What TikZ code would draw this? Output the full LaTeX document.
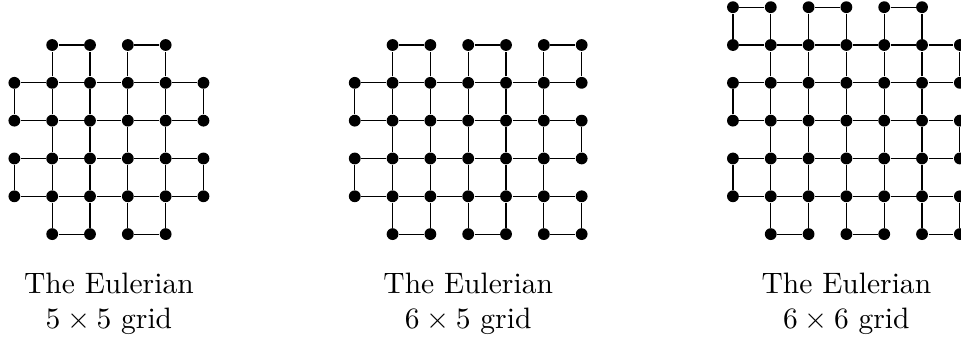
\documentclass[tikz,border=0pt]{standalone}
\usepackage{tikz}
\tikzset{
  vtx/.style={circle, fill=black, inner sep=0pt, minimum size=4pt},
  gridline/.style={line width=0.4pt},
  caption/.style={align=center, anchor=north}
}

\begin{document}
\begin{tikzpicture}[x=0.45cm, y=0.45cm]
\useasboundingbox (-0.38,-2.83) rectangle (25.03,6.19);

% 5 x 5
\begin{scope}
\foreach \x in {1,...,4} \foreach \y in {0,...,5} \node[vtx] (a-\x-\y) at (\x,\y) {};
\foreach \x in {0,5} \foreach \y in {1,...,4} \node[vtx] (a-\x-\y) at (\x,\y) {};
\foreach \y in {1,...,4}
  \foreach \p/\q in {0/1,1/2,2/3,3/4,4/5} \draw[gridline] (a-\p-\y) -- (a-\q-\y);
\foreach \y in {0,5}
  \foreach \p/\q in {1/2,3/4} \draw[gridline] (a-\p-\y) -- (a-\q-\y);
\foreach \x in {1,...,4}
  \foreach \p/\q in {0/1,1/2,2/3,3/4,4/5} \draw[gridline] (a-\x-\p) -- (a-\x-\q);
\foreach \x in {0,5}
  \foreach \p/\q in {1/2,3/4} \draw[gridline] (a-\x-\p) -- (a-\x-\q);
\node[caption] (lab-a) at (2.5,-0.75) {The Eulerian\\$5\times5$ grid};
\end{scope}

% 6 x 5
\begin{scope}[xshift=9*0.45cm]
\foreach \x in {1,...,6} \foreach \y in {0,...,5} \node[vtx] (b-\x-\y) at (\x,\y) {};
\foreach \y in {1,...,4} \node[vtx] (b-0-\y) at (0,\y) {};
\foreach \y in {1,...,4}
  \foreach \p/\q in {0/1,1/2,2/3,3/4,4/5,5/6} \draw[gridline] (b-\p-\y) -- (b-\q-\y);
\foreach \y in {0,5}
  \foreach \p/\q in {1/2,3/4,5/6} \draw[gridline] (b-\p-\y) -- (b-\q-\y);
\foreach \x in {1,...,5}
  \foreach \p/\q in {0/1,1/2,2/3,3/4,4/5} \draw[gridline] (b-\x-\p) -- (b-\x-\q);
\foreach \p/\q in {1/2,3/4} \draw[gridline] (b-0-\p) -- (b-0-\q);
\foreach \p/\q in {0/1,2/3,4/5} \draw[gridline] (b-6-\p) -- (b-6-\q);
\node[caption] (lab-b) at (3,-0.75) {The Eulerian\\$6\times5$ grid};
\end{scope}

% 6 x 6
\begin{scope}[xshift=19*0.45cm]
\foreach \x in {1,...,5} \foreach \y in {0,...,6} \node[vtx] (c-\x-\y) at (\x,\y) {};
\foreach \y in {1,...,6} \node[vtx] (c-0-\y) at (0,\y) {};
\foreach \y in {0,...,5} \node[vtx] (c-6-\y) at (6,\y) {};
\foreach \y in {1,...,5}
  \foreach \p/\q in {0/1,1/2,2/3,3/4,4/5,5/6} \draw[gridline] (c-\p-\y) -- (c-\q-\y);
\foreach \p/\q in {0/1,2/3,4/5} \draw[gridline] (c-\p-6) -- (c-\q-6);
\foreach \p/\q in {1/2,3/4,5/6} \draw[gridline] (c-\p-0) -- (c-\q-0);
\foreach \x in {1,...,5}
  \foreach \p/\q in {0/1,1/2,2/3,3/4,4/5,5/6} \draw[gridline] (c-\x-\p) -- (c-\x-\q);
\foreach \p/\q in {1/2,3/4,5/6} \draw[gridline] (c-0-\p) -- (c-0-\q);
\foreach \p/\q in {0/1,2/3,4/5} \draw[gridline] (c-6-\p) -- (c-6-\q);
\node[caption] (lab-c) at (3,-0.75) {The Eulerian\\$6\times6$ grid};
\end{scope}
\end{tikzpicture}
\end{document}
